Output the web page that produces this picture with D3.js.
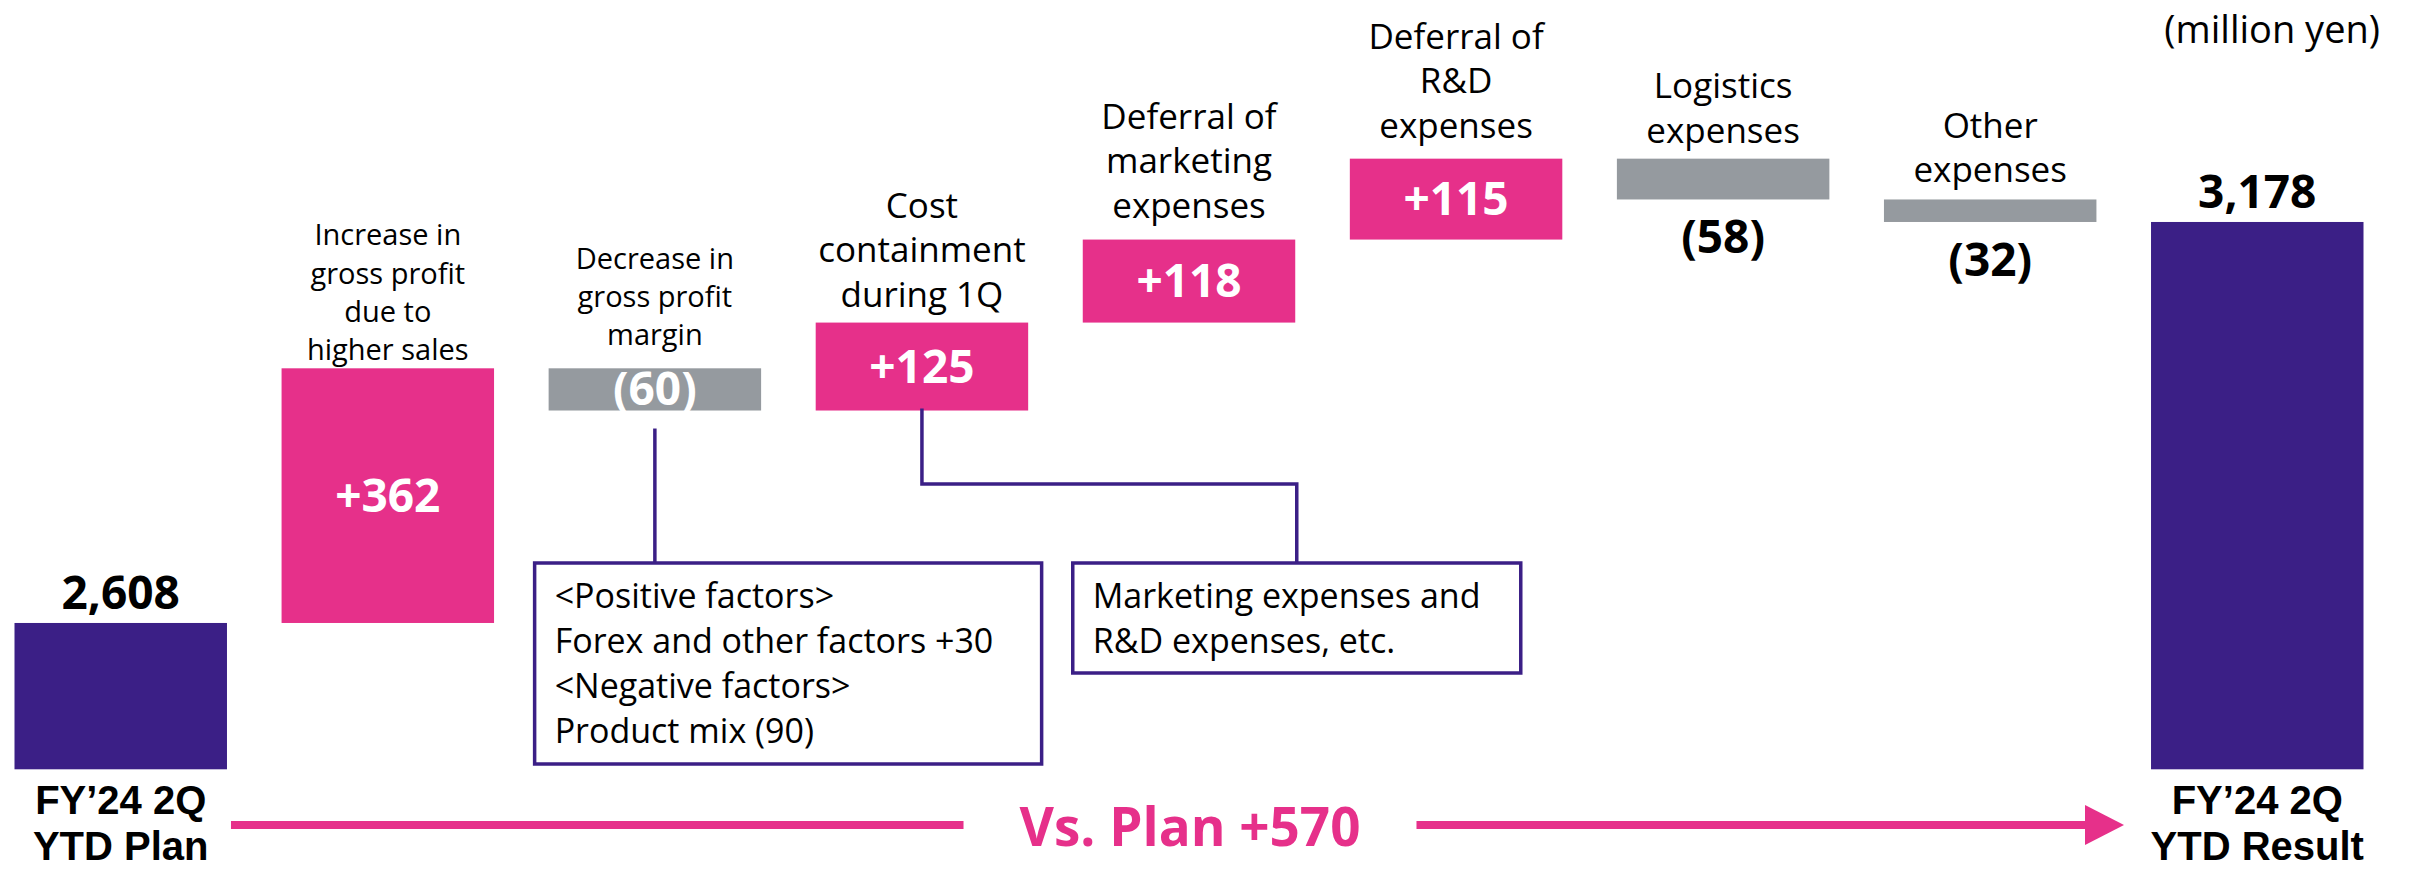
<!DOCTYPE html>
<html>
<head>
<meta charset="utf-8">
<script src="https://cdn.jsdelivr.net/npm/d3@7"></script>
<style>
  body { margin: 0; background: #fff; }
  svg { display: block; font-family: "Open Sans", "Noto Sans", sans-serif; }
</style>
</head>
<body>
<div id="chart"></div>
<script>
// Chart data (million yen)
const planLabel = ['FY’24 2Q', 'YTD Plan'];
const resultLabel = ['FY’24 2Q', 'YTD Result'];
const planValue = 2608;
const resultValue = 3178;

const stepLabels = [
    ['Increase in', 'gross profit', 'due to', 'higher sales'],
    ['Decrease in', 'gross profit', 'margin'],
    ['Cost', 'containment', 'during 1Q'],
    ['Deferral of', 'marketing', 'expenses'],
    ['Deferral of', 'R&D', 'expenses'],
    ['Logistics', 'expenses'],
    ['Other', 'expenses']
];
const stepValues = [362, -60, 125, 118, 115, -58, -32];

const unitLabel = '(million yen)';
const noteGrossMargin = ['<Positive factors>', 'Forex and other factors +30', '<Negative factors>', 'Product mix (90)'];
const noteCost = ['Marketing expenses and', 'R&D expenses, etc.'];

// Colors
const purple = '#3b1f86';
const pink = '#e6308a';
const gray = '#959a9f';

// Build waterfall rows
const rows = [];
rows.push({ key: 'plan', lines: planLabel, start: 2400, end: planValue, total: true, value: planValue });
let running = planValue;
stepValues.forEach((v, i) => {
    rows.push({ key: 'step' + i, lines: stepLabels[i], start: running, end: running + v, total: false, value: v, idx: i });
    running += v;
});
rows.push({ key: 'result', lines: resultLabel, start: 2400, end: resultValue, total: true, value: resultValue });

const width = 2412;
const height = 870;

const xScale = d3.scaleBand()
    .domain(rows.map(d => d.key))
    .range([14.5, 2363.5])
    .paddingInner(0.2044)
    .paddingOuter(0);

const yScale = d3.scaleLinear()
    .domain([2400, 3400])
    .range([769.3, 65.8]);

const svg = d3.select('#chart')
    .append('svg')
    .attr('width', width)
    .attr('height', height)
    .attr('viewBox', `0 0 ${width} ${height}`);

const fmtTotal = d3.format(',');
const fmtStep = v => v > 0 ? '+' + v : '(' + (-v) + ')';

// Bars
svg.append('g')
    .selectAll('rect')
    .data(rows)
    .join('rect')
    .attr('x', d => xScale(d.key))
    .attr('width', xScale.bandwidth())
    .attr('y', d => yScale(Math.max(d.start, d.end)))
    .attr('height', d => Math.abs(yScale(d.start) - yScale(d.end)))
    .attr('fill', d => d.total ? purple : (d.value > 0 ? pink : gray));

const cx = d => xScale(d.key) + xScale.bandwidth() / 2;
const barTop = d => yScale(Math.max(d.start, d.end));
const barBottom = d => yScale(Math.min(d.start, d.end));

// Value labels
const valueG = svg.append('g')
    .attr('font-weight', 700)
    .attr('font-size', 46)
    .attr('text-anchor', 'middle');

rows.forEach(d => {
    let y, fill;
    if (d.total) {
        y = barTop(d) - 14;
        fill = '#000';
    } else if (Math.abs(d.value) >= 60) {
        y = (barTop(d) + barBottom(d)) / 2 + 16;
        fill = '#fff';
    } else {
        y = barBottom(d) + 54;
        fill = '#000';
    }
    valueG.append('text')
        .attr('x', cx(d))
        .attr('y', y)
        .attr('fill', fill)
        .text(d.total ? fmtTotal(d.value) : fmtStep(d.value));
});

// Step category labels above bars
const labelGap = [8, 23, 16, 22, 21, 16, 17];
rows.filter(d => !d.total).forEach(d => {
    const small = d.idx < 2;
    const size = small ? 29 : 35;
    const lh = small ? 38.3 : 44.5;
    const n = d.lines.length;
    const base = barTop(d) - labelGap[d.idx];
    svg.append('g')
        .attr('font-size', size)
        .attr('text-anchor', 'middle')
        .attr('fill', '#000')
        .selectAll('text')
        .data(d.lines)
        .join('text')
        .attr('x', cx(d))
        .attr('y', (t, j) => base - (n - 1 - j) * lh)
        .text(t => t);
});

// Total category labels below bars (tighter font metrics for the two close lines)
rows.filter(d => d.total).forEach(d => {
    svg.append('g')
        .attr('font-family', '"Liberation Sans", Arial, sans-serif')
        .attr('font-size', 40)
        .attr('font-weight', 700)
        .attr('text-anchor', 'middle')
        .selectAll('text')
        .data(d.lines)
        .join('text')
        .attr('x', cx(d))
        .attr('y', (s, j) => yScale(2400) + 45 + j * 46)
        .text(s => s);
});

// Unit label
svg.append('text')
    .attr('x', 2380)
    .attr('y', 43)
    .attr('font-size', 38)
    .attr('text-anchor', 'end')
    .text(unitLabel);

// Vs. Plan arrow
const arrowY = 825;
const planRow = rows[0];
const resultRow = rows[rows.length - 1];
const arrowStart = xScale(planRow.key) + xScale.bandwidth() + 4;
const arrowTip = xScale(resultRow.key) - 27;
const diffText = svg.append('text')
    .attr('x', 1190)
    .attr('y', 846)
    .attr('font-size', 53)
    .attr('font-weight', 700)
    .attr('fill', pink)
    .attr('text-anchor', 'middle')
    .text('Vs. Plan +' + (resultValue - planValue));
const tw = diffText.node().getComputedTextLength();

svg.append('line')
    .attr('x1', arrowStart).attr('x2', 1190 - tw / 2 - 56)
    .attr('y1', arrowY).attr('y2', arrowY)
    .attr('stroke', pink).attr('stroke-width', 8);
svg.append('line')
    .attr('x1', 1190 + tw / 2 + 56).attr('x2', arrowTip - 38)
    .attr('y1', arrowY).attr('y2', arrowY)
    .attr('stroke', pink).attr('stroke-width', 8);
svg.append('path')
    .attr('d', `M${arrowTip - 39},${arrowY - 20} L${arrowTip},${arrowY} L${arrowTip - 39},${arrowY + 20} Z`)
    .attr('fill', pink);

// Annotation boxes and connectors
const marginRow = rows[2];
const costRow = rows[3];
const mktRow = rows[4];

const boxTop = 563;
const leftBox = { x: xScale(marginRow.key) - 14, w: 507, h: 201 };
const rightBox = { x: xScale(mktRow.key) - 10, w: 448, h: 110 };

svg.append('line')
    .attr('x1', cx(marginRow)).attr('x2', cx(marginRow))
    .attr('y1', barBottom(marginRow) + 18).attr('y2', boxTop)
    .attr('stroke', purple).attr('stroke-width', 3.5);

svg.append('path')
    .attr('d', `M${cx(costRow)},${barBottom(costRow) - 2} V484 H${rightBox.x + rightBox.w / 2} V${boxTop}`)
    .attr('fill', 'none')
    .attr('stroke', purple).attr('stroke-width', 3.5);

[[leftBox, noteGrossMargin], [rightBox, noteCost]].forEach(([b, lines]) => {
    svg.append('rect')
        .attr('x', b.x).attr('y', boxTop)
        .attr('width', b.w).attr('height', b.h)
        .attr('fill', '#fff')
        .attr('stroke', purple)
        .attr('stroke-width', 3.5);
    svg.append('g')
        .attr('font-size', 34)
        .selectAll('text')
        .data(lines)
        .join('text')
        .attr('x', b.x + 20)
        .attr('y', (t, j) => boxTop + 45 + j * 45)
        .text(t => t);
});
</script>
</body>
</html>
